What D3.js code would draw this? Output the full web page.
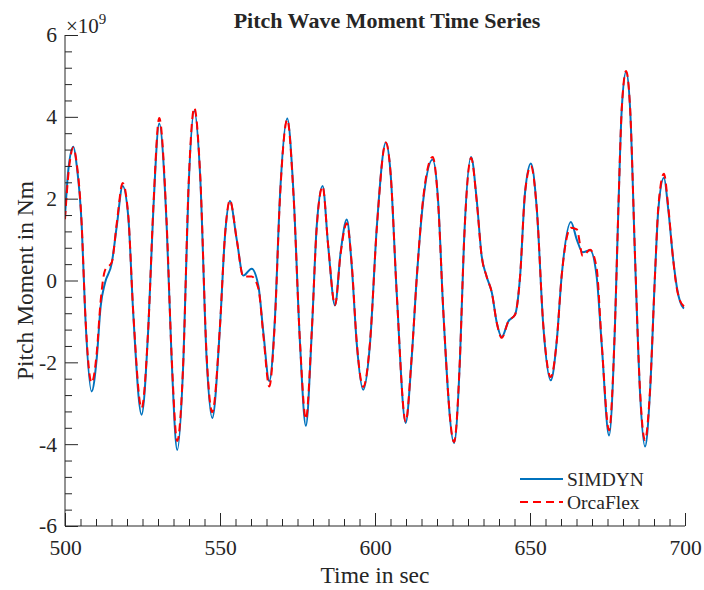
<!DOCTYPE html>
<html>
<head>
<meta charset="utf-8">
<script src="https://cdn.jsdelivr.net/npm/d3@7"></script>
<style>
  html, body { margin: 0; padding: 0; background: #fff; }
  svg { display: block; }
  text { font-family: "Liberation Serif", "Times New Roman", serif; fill: #262626; }
</style>
</head>
<body>
<div id="chart"></div>
<script>
// ---- Data (values in units of 1e9 Nm) ----
const timeSec = [500.0, 501.1, 502.7, 503.8, 505.4, 506.5, 508.6, 510.2, 511.5, 512.9,
  515.1, 516.7, 518.6, 520.4, 522.0, 524.7, 526.9, 528.5, 530.4, 532.8,
  534.4, 536.2, 538.2, 539.8, 541.7, 543.6, 545.7, 547.5, 550.0, 551.6,
  553.2, 555.4, 557.5, 560.2, 562.4, 564.0, 565.9, 567.7, 569.4, 571.7,
  573.7, 575.8, 577.7, 579.6, 581.2, 583.1, 584.9, 587.1, 588.9, 590.9,
  592.5, 594.1, 596.2, 598.4, 600.6, 603.5, 605.0, 607.0, 609.9, 611.8,
  613.5, 615.6, 618.6, 620.4, 622.0, 625.5, 627.4, 628.7, 631.0, 632.8,
  634.4, 636.0, 637.7, 639.3, 640.9, 643.0, 645.2, 646.8, 648.4, 650.3,
  652.2, 654.3, 656.7, 658.6, 660.2, 663.2, 665.1, 667.0, 669.4, 671.5,
  673.1, 675.5, 677.4, 678.5, 679.6, 681.0, 682.3, 683.9, 685.5, 687.1,
  688.7, 690.3, 691.4, 693.2, 694.6, 696.2, 697.5, 699.5, 699.7];

const simdynValues = [1.57, 2.72, 3.27, 2.80, 1.33, -0.78, -2.71, -1.93, -0.63, -0.06,
  0.43, 1.33, 2.31, 1.57, -0.79, -3.28, -1.12, 1.74, 3.84, 1.33,
  -1.93, -4.14, -1.93, 2.15, 4.14, 2.55, -1.93, -3.36, -1.12, 1.08,
  1.94, 1.00, 0.12, 0.29, -0.14, -1.28, -2.46, -0.95, 2.15, 3.96,
  2.15, -1.53, -3.55, -1.28, 1.33, 2.31, 0.84, -0.61, 0.68, 1.49,
  0.35, -1.53, -2.67, -1.53, 1.33, 3.37, 2.65, -0.30, -3.48, -1.93,
  0.10, 1.98, 2.96, 1.90, -0.71, -3.97, -1.93, 0.92, 3.02, 1.98,
  0.60, 0.10, -0.30, -1.04, -1.38, -1.00, -0.83, 0.10, 2.15, 2.86,
  1.74, -1.12, -2.44, -1.50, 0.10, 1.43, 1.00, 0.69, 0.74, 0.10,
  -1.53, -3.79, -1.12, 1.74, 4.19, 5.10, 4.19, 0.51, -2.75, -4.06,
  -2.75, 0.10, 1.74, 2.51, 1.74, 0.51, -0.22, -0.67, -0.68];

const orcaflexValues = [1.50, 2.60, 3.25, 2.85, 1.35, -0.75, -2.50, -1.80, -0.50, 0.25,
  0.45, 1.40, 2.38, 1.60, -0.75, -3.12, -1.10, 1.80, 3.97, 1.40,
  -1.85, -3.92, -1.90, 2.20, 4.22, 2.60, -1.85, -3.22, -1.10, 1.10,
  1.96, 1.00, 0.10, 0.10, -0.20, -1.35, -2.59, -1.00, 2.10, 3.93,
  2.10, -1.50, -3.39, -1.25, 1.30, 2.30, 0.85, -0.60, 0.65, 1.40,
  0.40, -1.50, -2.60, -1.50, 1.30, 3.37, 2.65, -0.30, -3.45, -1.90,
  0.10, 2.05, 3.02, 1.85, -0.70, -3.95, -1.90, 0.90, 3.00, 1.95,
  0.60, 0.10, -0.30, -1.04, -1.40, -1.00, -0.83, 0.10, 2.15, 2.80,
  1.74, -1.10, -2.36, -1.50, 0.10, 1.29, 1.25, 0.60, 0.75, 0.30,
  -1.50, -3.66, -1.10, 1.74, 4.20, 5.12, 4.20, 0.55, -2.70, -3.90,
  -2.70, 0.10, 1.80, 2.61, 1.80, 0.50, -0.25, -0.62, -0.63];

const seriesNames = ["SIMDYN", "OrcaFlex"];
const xTickValues = [500, 550, 600, 650, 700];
const yTickValues = [-6, -4, -2, 0, 2, 4, 6];
const titleText = "Pitch Wave Moment Time Series";
const xLabelText = "Time in sec";
const yLabelText = "Pitch Moment in Nm";

// ---- Layout ----
const W = 704, H = 590;
const m = { left: 65, right: 19, top: 35, bottom: 64 };
const innerW = W - m.left - m.right;
const innerH = H - m.top - m.bottom;

const svg = d3.select("#chart").append("svg").attr("width", W).attr("height", H);
const g = svg.append("g").attr("transform", `translate(${m.left},${m.top})`);

const x = d3.scaleLinear().domain([500, 700]).range([0, innerW]);
const y = d3.scaleLinear().domain([-6, 6]).range([innerH, 0]);

const axisColor = "#262626";

svg.append("defs").append("clipPath").attr("id", "clip")
  .append("rect").attr("width", innerW).attr("height", innerH);

// Lines
const line = (vals) => d3.line()
  .x((d, i) => x(timeSec[i]))
  .y(d => y(d))
  .curve(d3.curveMonotoneX)(vals);

const plot = g.append("g").attr("clip-path", "url(#clip)");
plot.append("path").attr("d", line(simdynValues))
  .attr("fill", "none").attr("stroke", "#0072BD").attr("stroke-width", 2);
plot.append("path").attr("d", line(orcaflexValues))
  .attr("fill", "none").attr("stroke", "#FF0000").attr("stroke-width", 2)
  .attr("stroke-dasharray", "8,5");

// Axes (ticks pointing inward)
const fmt = d => String(d);
const xMinor = d3.range(500, 701, 5).filter(v => v % 50 !== 0);
const yMinor = d3.range(-6, 6.001, 0.4).map(v => +v.toFixed(1))
  .filter(v => Math.abs(v % 2) > 1e-6 && Math.abs(Math.abs(v % 2) - 2) > 1e-6);

const xAxisG = g.append("g").attr("transform", `translate(0,${innerH})`)
  .call(d3.axisBottom(x).tickValues(xTickValues).tickSize(-13).tickPadding(14).tickFormat(fmt));
const xMinorG = g.append("g").attr("transform", `translate(0,${innerH})`)
  .call(d3.axisBottom(x).tickValues(xMinor).tickSize(-7).tickFormat(""));
const yAxisG = g.append("g")
  .call(d3.axisLeft(y).tickValues(yTickValues).tickSize(-13).tickPadding(8).tickFormat(fmt));
const yMinorG = g.append("g")
  .call(d3.axisLeft(y).tickValues(yMinor).tickSize(-7).tickFormat(""));

[xAxisG, xMinorG, yAxisG, yMinorG].forEach(a => {
  a.select(".domain").attr("stroke", axisColor).attr("stroke-width", 1);
  a.selectAll(".tick line").attr("stroke", axisColor).attr("stroke-width", 1);
  a.selectAll("text").attr("fill", axisColor)
    .style("font-family", '"Liberation Serif", serif').style("font-size", "21.5px");
});
xMinorG.select(".domain").remove();
yMinorG.select(".domain").remove();
xAxisG.selectAll("text").attr("dy", "0.71em");
xAxisG.select(".domain").attr("d", `M0,0H${innerW}`);
yAxisG.select(".domain").attr("d", `M0,${innerH}V0`);

// Exponent label
const expT = svg.append("text").attr("x", 66).attr("y", 33)
  .style("font-size", "21px");
expT.append("tspan").text("\u00D710");
expT.append("tspan").attr("dy", -9).style("font-size", "15px").text("9");

// Title
svg.append("text").attr("x", 387).attr("y", 28)
  .attr("text-anchor", "middle").style("font-size", "22px").style("font-weight", "bold")
  .attr("fill", "#000").text(titleText);

// Axis labels
svg.append("text").attr("x", m.left + innerW / 2).attr("y", 583)
  .attr("text-anchor", "middle").style("font-size", "23.5px").text(xLabelText);
svg.append("text").attr("transform", `translate(33,${m.top + innerH / 2}) rotate(-90)`)
  .attr("text-anchor", "middle").style("font-size", "23.5px").text(yLabelText);

// Legend
const legend = svg.append("g");
const legendStyles = [
  { color: "#0072BD", dash: null },
  { color: "#FF0000", dash: "8,5" }
];
seriesNames.forEach((name, i) => {
  const ly = 479 + i * 23;
  legend.append("line").attr("x1", 520).attr("x2", 563).attr("y1", ly).attr("y2", ly)
    .attr("stroke", legendStyles[i].color).attr("stroke-width", 2)
    .attr("stroke-dasharray", legendStyles[i].dash);
  legend.append("text").attr("x", 567).attr("y", ly + 7)
    .style("font-size", "19.5px").attr("fill", "#000").text(name);
});
</script>
</body>
</html>
